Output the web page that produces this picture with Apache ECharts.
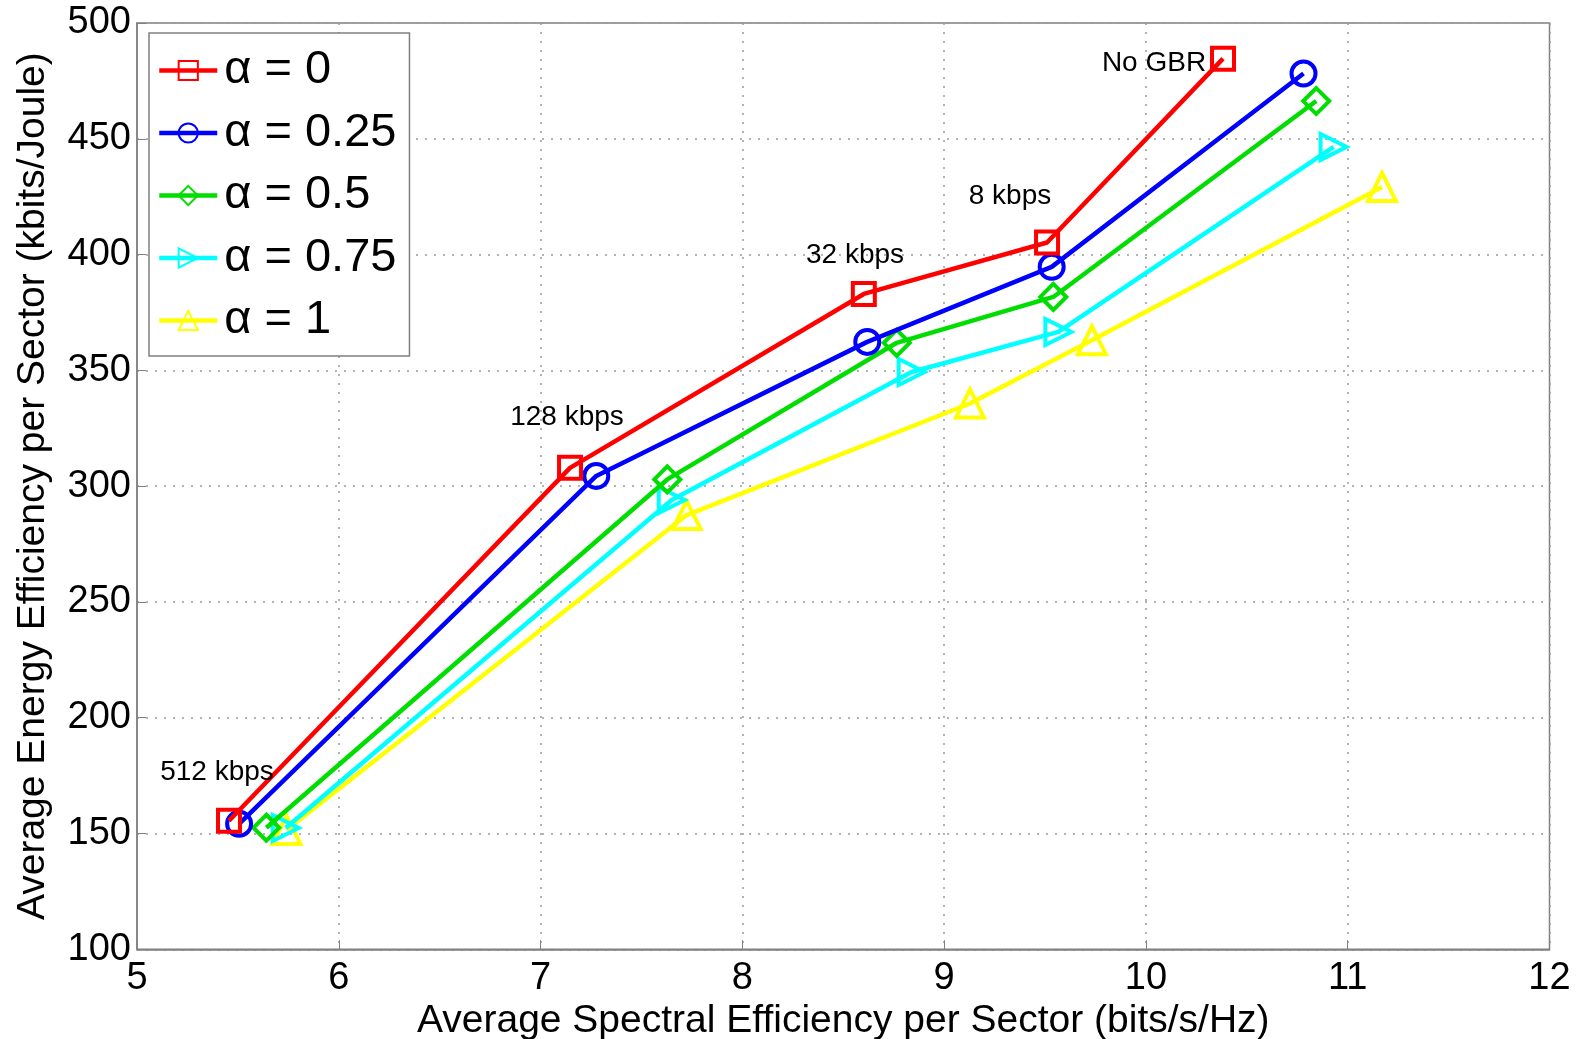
<!DOCTYPE html>
<html><head><meta charset="utf-8">
<script src="https://cdn.jsdelivr.net/npm/echarts@6/dist/echarts.min.js"></script>
<style>html,body{margin:0;padding:0;background:#fff}#c{width:1577px;height:1039px}</style>
</head><body><div id="c"></div>
<script>
const seriesNames = ['α = 0', 'α = 0.25', 'α = 0.5', 'α = 0.75', 'α = 1'];
const colors = ['#ff0000', '#0000ff', '#00dd00', '#00ffff', '#ffff00'];
const symbols = ['rect', 'circle', 'diamond', 'triangle', 'triangle'];
const rotations = [0, 0, 0, -90, 0];
const symbolSizes = [22, 24, 26, 26, 28];

const xAlpha0 = [5.456, 7.146, 8.602, 9.510, 10.382];
const yAlpha0 = [155.5, 307.9, 383.0, 405.2, 484.6];
const xAlpha025 = [5.506, 7.276, 8.619, 9.533, 10.781];
const yAlpha025 = [154.2, 304.4, 362.3, 394.7, 478.2];
const xAlpha05 = [5.641, 7.628, 8.765, 9.541, 10.844];
const yAlpha05 = [152.5, 302.9, 361.9, 381.7, 466.3];
const xAlpha075 = [5.737, 7.650, 8.839, 9.566, 10.930];
const yAlpha075 = [152.4, 294.0, 349.3, 366.6, 446.5];
const xAlpha1 = [5.741, 7.724, 9.128, 9.732, 11.170];
const yAlpha1 = [151.5, 287.5, 335.7, 363.0, 429.2];

const xs = [xAlpha0, xAlpha025, xAlpha05, xAlpha075, xAlpha1];
const ys = [yAlpha0, yAlpha025, yAlpha05, yAlpha075, yAlpha1];

const annotations = ['512 kbps', '128 kbps', '32 kbps', '8 kbps', 'No GBR'];
const annotationPos = [[217, 772], [567, 417], [855, 255], [1010, 196], [1154, 63]];

const FONT = '"Liberation Sans", Arial, sans-serif';

const chart = echarts.init(document.getElementById('c'), null, {renderer: 'canvas'});
const series = seriesNames.map((n, i) => ({
  name: n,
  type: 'line',
  data: xs[i].map((x, k) => [x, ys[i][k]]),
  symbol: symbols[i],
  symbolRotate: rotations[i],
  symbolSize: symbolSizes[i],
  showAllSymbol: true,
  lineStyle: {color: colors[i], width: 4.5},
  itemStyle: {color: 'rgba(255,255,255,0)', borderColor: colors[i], borderWidth: 4},
  emphasis: {disabled: true},
  z: 10 - i
}));

chart.setOption({
  animation: false,
  backgroundColor: '#ffffff',
  grid: {left: 137, top: 23, right: 27.5, bottom: 89.7, containLabel: false, outerBoundsMode: 'none',
         show: true, borderColor: '#808080', borderWidth: 1.5, backgroundColor: '#fff'},
  xAxis: {
    type: 'value', min: 5, max: 12, interval: 1,
    name: 'Average Spectral Efficiency per Sector (bits/s/Hz)',
    nameLocation: 'middle', nameGap: 52,
    nameTextStyle: {fontSize: 39, color: '#000', fontFamily: FONT},
    axisLine: {show: true, lineStyle: {color: '#808080', width: 1.5}},
    axisTick: {show: true, inside: true, length: 9, lineStyle: {color: '#808080'}},
    axisLabel: {fontSize: 38, color: '#000', fontFamily: FONT, margin: 10},
    splitLine: {show: true, lineStyle: {type: [2, 7], color: '#9a9a9a', width: 1.5}}
  },
  yAxis: {
    type: 'value', min: 100, max: 500, interval: 50,
    name: 'Average Energy Efficiency per Sector (kbits/Joule)',
    nameLocation: 'middle', nameGap: 84,
    nameTextStyle: {fontSize: 39, color: '#000', fontFamily: FONT},
    axisLine: {show: true, lineStyle: {color: '#808080', width: 1.5}},
    axisTick: {show: true, inside: true, length: 9, lineStyle: {color: '#808080'}},
    axisLabel: {fontSize: 38, color: '#000', fontFamily: FONT, margin: 6},
    splitLine: {show: true, lineStyle: {type: [2, 7], color: '#9a9a9a', width: 1.5}}
  },
  legend: {
    show: true, orient: 'vertical', left: 149, top: 33,
    padding: [14, 13, 12, 8],
    itemWidth: 58, itemHeight: 24, itemGap: 15.5,
    backgroundColor: '#fff', borderColor: '#808080', borderWidth: 1.5,
    lineStyle: {width: 4.5},
    textStyle: {fontSize: 47, color: '#000', fontFamily: FONT, padding: [0, 0, 0, 2]},
    data: seriesNames
  },
  graphic: annotations.map((t, i) => ({
    type: 'text', x: annotationPos[i][0], y: annotationPos[i][1], z: 100,
    style: {text: t, fontSize: 28, fill: '#000', fontFamily: FONT, align: 'center', verticalAlign: 'middle'}
  })),
  series: series
});
</script></body></html>
